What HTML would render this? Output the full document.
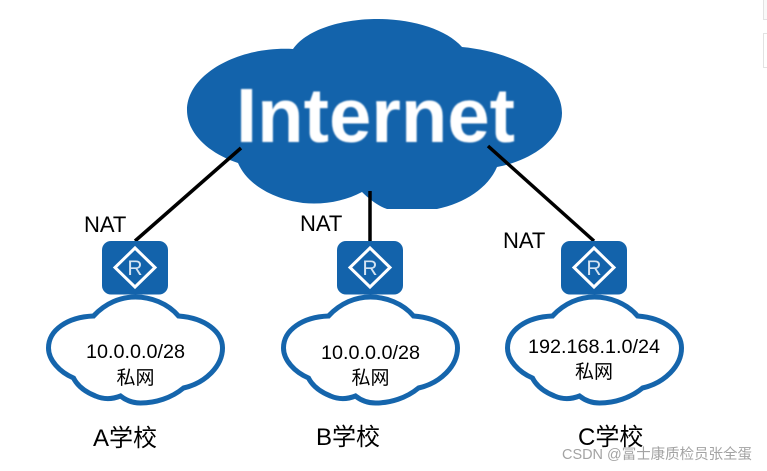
<!DOCTYPE html>
<html>
<head>
<meta charset="utf-8">
<style>
html,body{margin:0;padding:0;background:#fff;width:767px;height:471px;overflow:hidden}
svg{display:block}
text{font-family:"Liberation Sans","Noto Sans CJK SC",sans-serif;fill:#000}
</style>
</head>
<body>
<svg width="767" height="471" viewBox="0 0 767 471" xmlns="http://www.w3.org/2000/svg">
<defs>
<filter id="b" x="-5%" y="-5%" width="110%" height="110%"><feGaussianBlur stdDeviation="0.7"/></filter>
<g id="sc"><path d="M-42,-34 C-30,-47 -15,-53 0,-53 C15,-53 32,-47 43,-34 C70,-32 87,-18 87,-2 C87,16 70,33 48,38 C36,48 20,53 5,53 C-3,53 -10,50 -15,46 C-25,50 -33,49 -40,46 C-50,42 -58,36 -62,28 C-76,22 -87,10 -87,-2 C-87,-20 -68,-33 -42,-34 Z" fill="#fff" stroke="#1565ac" stroke-width="5"/></g>
<g id="rt">
<rect x="-33" y="-26.500" width="66" height="53.500" rx="9" fill="#1363ab"/>
<path d="M0,-19.500 L20,0 L0,19.500 L-20,0 Z" fill="none" stroke="#fff" stroke-width="3"/>
<text x="0" y="7.500" font-size="21" text-anchor="middle" style="fill:#d5e4f2">R</text>
</g>
</defs>

<rect x="763" y="0" width="4" height="19" fill="#f9f9f9"/>
<path d="M763.500,0V19.500H767" fill="none" stroke="#e2e2e2"/>
<path d="M767,33.500H763.500V67.500H767" fill="none" stroke="#e2e2e2"/>

<path d="M293,49 C308,28 345,19 377,19 C412,19 446,29 462,47 C515,52 562,78 562,113 C562,140 530,161 497,167 C488,188 465,203 437,209 L387,209 C378,206 369,199 362,192 C345,201 325,205 303,203 C272,199 247,184 238,163 C208,153 187,133 187,110 C187,75 237,46 293,49 Z" fill="#1363ab"/>
<text x="236" y="142" font-size="77" font-weight="bold" textLength="279" lengthAdjust="spacingAndGlyphs" style="fill:#fff" filter="url(#b)">Internet</text>

<g stroke="#000" stroke-width="3.500" fill="none">
<line x1="241" y1="148" x2="135" y2="241"/>
<line x1="370" y1="191" x2="370" y2="241"/>
<line x1="488" y1="146" x2="594" y2="241"/>
</g>

<use href="#sc" x="135.500" y="350"/>
<use href="#sc" x="370.500" y="350"/>
<use href="#sc" x="594.500" y="350"/>

<use href="#rt" x="135" y="267.500"/>
<use href="#rt" x="370" y="267.500"/>
<use href="#rt" x="594" y="267.500"/>

<text x="84" y="232" font-size="22">NAT</text>
<text x="300" y="231" font-size="22">NAT</text>
<text x="503" y="248" font-size="22">NAT</text>

<text x="135.500" y="358" font-size="19.800" text-anchor="middle">10.0.0.0/28</text>
<text x="135.500" y="384" font-size="19" text-anchor="middle">私网</text>
<text x="370.500" y="359" font-size="19.800" text-anchor="middle">10.0.0.0/28</text>
<text x="370.500" y="384" font-size="19" text-anchor="middle">私网</text>
<text x="594" y="353" font-size="19.800" text-anchor="middle">192.168.1.0/24</text>
<text x="594" y="378" font-size="19" text-anchor="middle">私网</text>

<text x="93" y="446" font-size="24">A学校</text>
<text x="316" y="445" font-size="24">B学校</text>
<text x="578" y="445" font-size="24">C学校</text>

<text x="562" y="459" font-size="14.500" textLength="190" lengthAdjust="spacingAndGlyphs" style="fill:#a3a3a3">CSDN @富士康质检员张全蛋</text>
</svg>
</body>
</html>
